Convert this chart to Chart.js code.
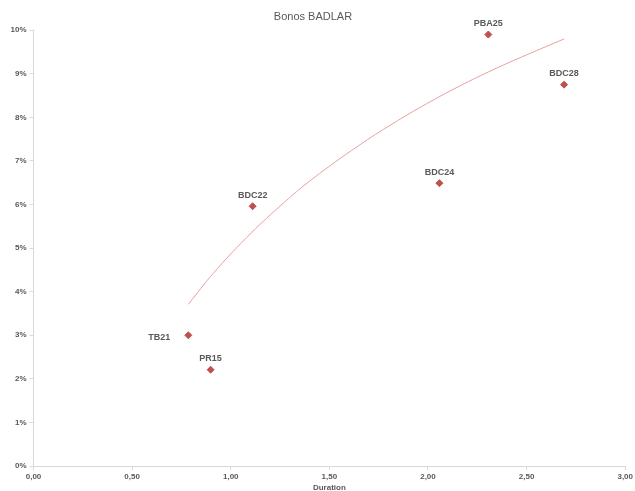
<!DOCTYPE html>
<html>
<head>
<meta charset="utf-8">
<script src="https://cdn.jsdelivr.net/npm/chart.js@4.4.0/dist/chart.umd.min.js"></script>
<style>
html,body{margin:0;padding:0;background:#fff;}
#wrap{width:635px;height:491px;}
</style>
</head>
<body>
<div id="wrap"><canvas id="c"></canvas></div>
<script>
// Data
const bondNames = ["TB21", "PR15", "BDC22", "BDC24", "PBA25", "BDC28"];
const durations = [0.785, 0.898, 1.111, 2.058, 2.306, 2.690];
const yields = [3.00, 2.21, 5.96, 6.49, 9.90, 8.75];
// Trendline
const trendX = [0.785, 0.911, 1.08, 1.249, 1.418, 1.645, 1.823, 1.992, 2.161, 2.329, 2.498, 2.69];
const trendY = [3.71, 4.42, 5.24, 5.96, 6.60, 7.34, 7.86, 8.31, 8.72, 9.09, 9.43, 9.80];
const xTicks = [0, 0.5, 1, 1.5, 2, 2.5, 3];
const yTicks = [0, 1, 2, 3, 4, 5, 6, 7, 8, 9, 10];

const labelPlugin = {
  id: 'pointLabels',
  afterDatasetsDraw(chart) {
    const meta = chart.getDatasetMeta(1);
    const ctx = chart.ctx;
    ctx.save();
    ctx.font = 'bold 9px "Liberation Sans", Arial, sans-serif';
    ctx.fillStyle = '#595959';
    ctx.textBaseline = 'middle';
    meta.data.forEach((el, i) => {
      const name = bondNames[i];
      if (name === 'TB21') {
        ctx.textAlign = 'right';
        ctx.fillText(name, el.x - 18, el.y + 2);
      } else {
        ctx.textAlign = 'center';
        ctx.fillText(name, el.x, el.y - 11);
      }
    });
    ctx.restore();
  }
};

const tickFont = {family: '"Liberation Sans", Arial, sans-serif', size: 8, weight: 'bold'};

new Chart(document.getElementById('c'), {
  type: 'scatter',
  data: {
    datasets: [
      {
        label: 'Tendencia',
        data: trendX.map((x, i) => ({x: x, y: trendY[i]})),
        showLine: true,
        borderColor: '#E8A09E',
        borderWidth: 1,
        pointRadius: 0,
        tension: 0.4,
        fill: false
      },
      {
        label: 'Bonos',
        data: durations.map((x, i) => ({x: x, y: yields[i]})),
        pointStyle: 'rectRot',
        pointRadius: 3.5,
        backgroundColor: '#C0504D',
        borderColor: '#C0504D',
        borderWidth: 1
      }
    ]
  },
  options: {
    responsive: true,
    maintainAspectRatio: false,
    animation: false,
    layout: {padding: {left: 0, right: 9, top: 0, bottom: 0}},
    plugins: {
      legend: {display: false},
      tooltip: {enabled: false},
      title: {
        display: true,
        text: 'Bonos BADLAR',
        color: '#595959',
        font: {family: '"Liberation Sans", Arial, sans-serif', size: 11, weight: 'normal'},
        padding: {top: 10, bottom: 7}
      }
    },
    scales: {
      x: {
        type: 'linear',
        min: 0, max: 3,
        afterBuildTicks: (s) => { s.ticks = xTicks.map(v => ({value: v})); },
        afterFit: (s) => { s.height = 25; },
        ticks: {
          color: '#595959', font: tickFont, padding: 2, maxRotation: 0,
          callback: (v) => Number(v).toFixed(2).replace('.', ',')
        },
        grid: {display: true, drawOnChartArea: false, drawTicks: true, tickLength: 4, color: '#D9D9D9'},
        border: {display: true, color: '#D9D9D9'},
        title: {
          display: true, text: 'Duration', color: '#595959',
          font: {family: '"Liberation Sans", Arial, sans-serif', size: 8, weight: 'bold', lineHeight: 0.8},
          padding: {top: 0, bottom: 0}
        }
      },
      y: {
        type: 'linear',
        min: 0, max: 10,
        afterBuildTicks: (s) => { s.ticks = yTicks.map(v => ({value: v})); },
        afterFit: (s) => { s.width = 33.5; },
        ticks: {
          color: '#595959', font: tickFont, padding: 3,
          callback: (v) => v + '%'
        },
        grid: {display: true, drawOnChartArea: false, drawTicks: true, tickLength: 4, color: '#D9D9D9'},
        border: {display: true, color: '#D9D9D9'}
      }
    }
  },
  plugins: [labelPlugin]
});
</script>
</body>
</html>
